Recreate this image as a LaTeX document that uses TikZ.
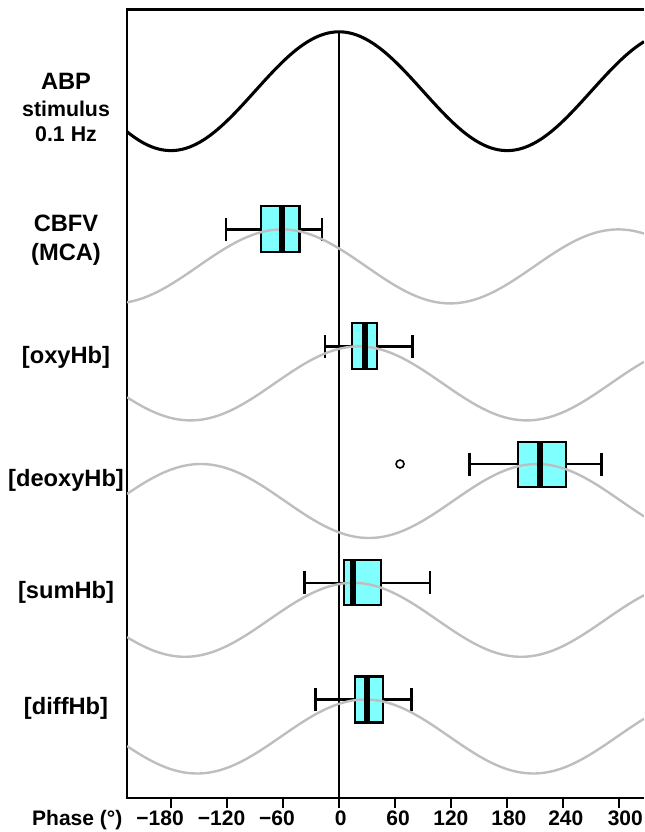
\documentclass[tikz,border=0pt]{standalone}
\usepackage{fontspec}
\setmainfont{Liberation Sans}
\definecolor{boxcyan}{HTML}{80FFFF}
\definecolor{wavegrey}{HTML}{BEBEBE}
\tikzset{
  rowlabel/.style={font=\bfseries\fontsize{17.75}{20}\selectfont, anchor=base},
  sublabel/.style={font=\bfseries\fontsize{16}{18}\selectfont, anchor=base},
  ticklabel/.style={font=\bfseries\fontsize{15.75}{18}\selectfont, anchor=base},
  frame/.style={line width=1.6pt},
  wave/.style={wavegrey, line width=1.8pt},
  stimwave/.style={black, line width=2.3pt},
  iqrbox/.style={draw, fill=boxcyan, line width=1.6pt},
  whisker/.style={line width=1.8pt},
  median/.style={fill=black},
}
\begin{document}
\begin{tikzpicture}[x=0.7005pt, y=-0.75pt]
  \useasboundingbox (-363,0) rectangle (326.55,832);
  % row labels
  \node[rowlabel] (abp) at (-292.3,89.3) {ABP};
  \node[sublabel] (stim) at (-292.3,116) {stimulus};
  \node[sublabel] (freq) at (-292.3,141.7) {0.1 Hz};
  \node[rowlabel] (cbfv) at (-292.3,231.7) {CBFV};
  \node[rowlabel] (mca) at (-292.3,260.7) {(MCA)};
  \node[rowlabel] (oxy) at (-292.3,363.5) {[oxyHb]};
  \node[rowlabel] (deoxy) at (-292.3,486) {[deoxyHb]};
  \node[rowlabel] (sum) at (-292.3,598) {[sumHb]};
  \node[rowlabel] (diff) at (-292.3,714) {[diffHb]};
  % axis
  \draw[frame] (326.55,9.5) -- (-227,9.5) -- (-227,798) -- (326.55,798);
  \draw[frame] (-180,798) -- (-180,808) (-120,798) -- (-120,808)
    (-60,798) -- (-60,808) (0,798) -- (0,808) (60,798) -- (60,808)
    (120,798) -- (120,808) (180,798) -- (180,808) (240,798) -- (240,808)
    (300,798) -- (300,808);
  \node[ticklabel] (phase) at (-280.3,825) {Phase (°)};
  \node[ticklabel] (t1) at (-191.6,825) {−180};
  \node[ticklabel] (t2) at (-125.8,825) {−120};
  \node[ticklabel] (t3) at (-66.4,825) {−60};
  \node[ticklabel] (t4) at (1.9,825) {0};
  \node[ticklabel] (t5) at (63.2,825) {60};
  \node[ticklabel] (t6) at (119.7,825) {120};
  \node[ticklabel] (t7) at (181.8,825) {180};
  \node[ticklabel] (t8) at (242.8,825) {240};
  \node[ticklabel] (t9) at (306.5,825) {300};
  \begin{scope}
    \clip (-227,9.5) rectangle (326.55,798);
    \draw[line width=1.2pt] (0,31.8) -- (0,798);
    % stimulus
    \draw[stimwave] plot[domain=-227:326.55, samples=150, smooth] (\x,{91.2-59.4*cos(\x)});
    % CBFV
    \draw[whisker] (-121,229.4) -- (-83.5,229.4) (-42.3,229.4) -- (-18.2,229.4)
      (-121,218) -- (-121,241) (-18.2,218) -- (-18.2,241);
    \filldraw[iqrbox] (-83.5,206.4) rectangle (-42.3,252.4);
    \draw[wave] plot[domain=-227:326.55, samples=150, smooth] (\x,{229.4+37-37*cos(\x+61)});
    \fill[median] (-64.2,206.4) rectangle (-57.8,252.4);
    % oxyHb
    \draw[whisker] (-15,346.4) -- (13.9,346.4) (40.7,346.4) -- (78.6,346.4)
      (-15,335) -- (-15,358) (78.6,335) -- (78.6,358);
    \filldraw[iqrbox] (13.9,323.4) rectangle (40.7,369.4);
    \draw[wave] plot[domain=-227:326.55, samples=150, smooth] (\x,{346.4+37-37*cos(\x-21)});
    \fill[median] (24.6,323.4) rectangle (31,369.4);
    % deoxyHb
    \draw[whisker] (139.5,464) -- (191.8,464) (242.9,464) -- (281.2,464)
      (139.5,452.5) -- (139.5,475.5) (281.2,452.5) -- (281.2,475.5);
    \filldraw[iqrbox] (191.8,441.7) rectangle (242.9,487.3);
    \draw[wave] plot[domain=-227:326.55, samples=150, smooth] (\x,{464+37-37*cos(\x-212)});
    \fill[median] (212.3,441.7) rectangle (218.7,487.3);
    \draw[line width=1.2pt] (65.3,464) circle[radius=3pt];
    % sumHb
    \draw[whisker] (-37,582.8) -- (5.4,582.8) (45,582.8) -- (97.4,582.8)
      (-37,571.3) -- (-37,594.3) (97.4,571.3) -- (97.4,594.3);
    \filldraw[iqrbox] (5.4,559.8) rectangle (45,604.8);
    \draw[wave] plot[domain=-227:326.55, samples=150, smooth] (\x,{582.8+37-37*cos(\x-15)});
    \fill[median] (11.9,559.8) rectangle (18.3,604.8);
    % diffHb
    \draw[whisker] (-25.2,699.5) -- (16.7,699.5) (47.1,699.5) -- (77.5,699.5)
      (-25.2,688) -- (-25.2,711) (77.5,688) -- (77.5,711);
    \filldraw[iqrbox] (16.7,676.5) rectangle (47.1,722.5);
    \draw[wave] plot[domain=-227:326.55, samples=150, smooth] (\x,{699.5+37-37*cos(\x-28)});
    \fill[median] (27.1,676.5) rectangle (33.5,722.5);
  \end{scope}
\end{tikzpicture}
\end{document}
